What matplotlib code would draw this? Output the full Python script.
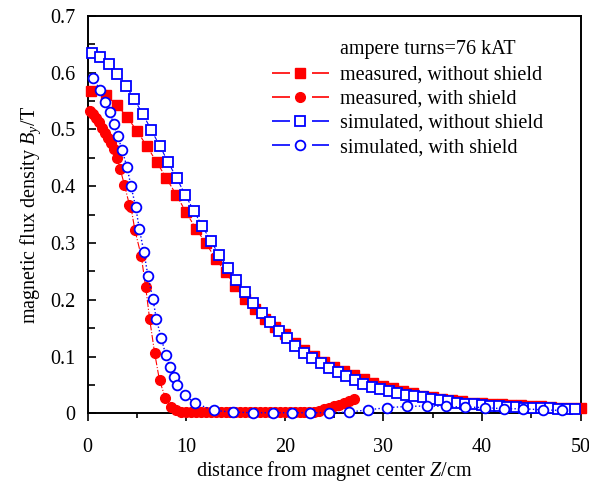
import matplotlib
matplotlib.use('Agg')
import matplotlib.pyplot as plt
from matplotlib.lines import Line2D

plt.rcParams['font.family'] = ['Liberation Serif', 'DejaVu Serif']
plt.rcParams['mathtext.fontset'] = 'custom'
plt.rcParams['mathtext.rm'] = 'Liberation Serif'
plt.rcParams['mathtext.it'] = 'Liberation Serif:italic'
plt.rcParams['font.size'] = 14.5

# measured, without shield
meas_ns_x = [0.4, 1.9, 3, 4, 5, 6, 7, 8, 9, 10, 11, 12, 13, 14, 15, 16, 17, 18, 19, 20,
             21, 22, 23, 24, 25, 26, 27, 28, 29, 30, 31, 32, 33, 34, 35, 36, 37, 38, 39, 40,
             41, 42, 43, 44, 45, 46, 47, 48, 49, 50]
meas_ns_y = [0.568, 0.560, 0.543, 0.522, 0.498, 0.471, 0.443, 0.414, 0.385, 0.354,
             0.325, 0.300, 0.272, 0.249, 0.224, 0.201, 0.183, 0.166, 0.152, 0.139,
             0.124, 0.112, 0.101, 0.091, 0.082, 0.074, 0.067, 0.060, 0.054, 0.048,
             0.044, 0.040, 0.035, 0.031, 0.028, 0.025, 0.023, 0.021, 0.019, 0.018,
             0.017, 0.016, 0.015, 0.014, 0.013, 0.012, 0.011, 0.010, 0.009, 0.009]

# measured, with shield
meas_s_x = [0.3, 0.6, 0.9, 1.2, 1.5, 1.8, 2.1, 2.4, 2.7, 3.0, 3.3, 3.75, 4.25, 4.4, 4.8,
            5.45, 5.9, 6.3, 6.8, 7.3, 7.9, 8.5, 9.0, 9.5, 10.0, 10.5, 11.0, 11.5, 12.0,
            12.5, 13.0, 13.5, 14.0, 14.5, 15.0, 15.5, 16.0, 16.5, 17.0, 17.5, 18.0, 18.5,
            19.0, 19.5, 20.0, 20.5, 21.0, 21.5, 22.0, 22.5, 23.0, 23.5, 24.0, 24.5, 25.0,
            25.5, 26.0, 26.5, 27.0]
meas_s_y = [0.533, 0.527, 0.521, 0.513, 0.503, 0.494, 0.485, 0.476, 0.465, 0.450, 0.431,
            0.402, 0.367, 0.364, 0.323, 0.277, 0.222, 0.166, 0.107, 0.058, 0.027, 0.011,
            0.005, 0.003, 0.002, 0.002, 0.002, 0.002, 0.002, 0.002, 0.002, 0.002, 0.002,
            0.002, 0.002, 0.002, 0.002, 0.002, 0.002, 0.002, 0.002, 0.002, 0.002, 0.002,
            0.002, 0.002, 0.002, 0.002, 0.002, 0.002, 0.003, 0.004, 0.007, 0.009, 0.012,
            0.015, 0.018, 0.022, 0.026]

# simulated, without shield
sim_ns_x = [0.45, 1.31, 2.17, 3.03, 3.89, 4.75, 5.61, 6.47, 7.33, 8.19, 9.05, 9.91, 10.77,
            11.63, 12.49, 13.35, 14.21, 15.07, 15.93, 16.79, 17.65, 18.51, 19.37, 20.23,
            21.09, 21.95, 22.81, 23.67, 24.53, 25.39, 26.25, 27.11, 27.97, 28.83, 29.69,
            30.55, 31.41, 32.27, 33.13, 33.99, 34.85, 35.71, 36.57, 37.43, 38.29, 39.15,
            40.01, 40.87, 41.73, 42.59, 43.45, 44.31, 45.17, 46.03, 46.89, 47.75, 48.61,
            49.47]
sim_ns_y = [0.634, 0.628, 0.615, 0.597, 0.577, 0.553, 0.527, 0.499, 0.471, 0.442, 0.414,
            0.385, 0.357, 0.330, 0.304, 0.279, 0.256, 0.234, 0.214, 0.195, 0.177, 0.160,
            0.145, 0.132, 0.119, 0.107, 0.097, 0.089, 0.080, 0.072, 0.065, 0.058, 0.052,
            0.047, 0.043, 0.039, 0.036, 0.033, 0.030, 0.028, 0.026, 0.023, 0.021, 0.019,
            0.017, 0.016, 0.014, 0.013, 0.012, 0.011, 0.011, 0.010, 0.010, 0.009, 0.009,
            0.008, 0.008, 0.008]

# simulated, with shield
sim_s_x = [0.6, 1.25, 1.8, 2.25, 2.65, 3.08, 3.52, 4.0, 4.4, 4.88, 5.25, 5.72, 6.13, 6.64,
           6.98, 7.49, 7.93, 8.4, 8.74, 9.08, 9.86, 10.9, 12.8, 14.8, 16.8, 18.8, 20.7,
           22.6, 24.5, 26.5, 28.4, 30.4, 32.4, 34.4, 36.4, 38.3, 40.3, 42.2, 44.2, 46.2,
           48.1]
sim_s_y = [0.590, 0.570, 0.549, 0.530, 0.510, 0.488, 0.463, 0.434, 0.401, 0.364, 0.325,
           0.284, 0.242, 0.201, 0.166, 0.132, 0.103, 0.081, 0.064, 0.049, 0.032, 0.018,
           0.005, 0.002, 0.001, 0.001, 0.001, 0.001, 0.001, 0.002, 0.006, 0.010, 0.012,
           0.013, 0.012, 0.011, 0.010, 0.008, 0.008, 0.006, 0.005]

labels = ['measured, without shield', 'measured, with shield',
          'simulated, without shield', 'simulated, with shield']

fig = plt.figure(figsize=(5.89, 4.84), dpi=100)
ax = fig.add_axes([0.1486, 0.1461, 0.8370, 0.8209])

ms = 7
ax.plot(meas_ns_x, meas_ns_y, color='red', ls='--', lw=0.8, marker='s', ms=ms,
        mec='red', mfc='red', clip_on=False, zorder=3)
ax.plot(meas_s_x, meas_s_y, color='red', ls='-.', lw=0.8, marker='o', ms=ms,
        mec='red', mfc='red', clip_on=False, zorder=3)
ax.plot(sim_ns_x, sim_ns_y, color='blue', ls='--', lw=0.8, marker='s', ms=ms,
        mec='blue', mfc='white', mew=1.3, clip_on=False, zorder=4)
ax.plot(sim_s_x, sim_s_y, color='blue', ls=':', lw=1.0, marker='o', ms=ms,
        mec='blue', mfc='white', mew=1.3, clip_on=False, zorder=5)

ax.set_xlim(0, 50)
ax.set_ylim(0, 0.7)
ax.set_xticks([0, 10, 20, 30, 40, 50])
ax.set_xticks([5, 15, 25, 35, 45], minor=True)
ax.set_yticks([0, 0.1, 0.2, 0.3, 0.4, 0.5, 0.6, 0.7])
ax.set_yticklabels(['0', '0.1', '0.2', '0.3', '0.4', '0.5', '0.6', '0.7'])
ax.set_yticks([0.05, 0.15, 0.25, 0.35, 0.45, 0.55, 0.65], minor=True)
ax.tick_params(axis='x', which='major', direction='out', length=6, width=1.2, pad=12)
ax.tick_params(axis='x', which='minor', direction='out', length=3.5, width=1.2)
ax.tick_params(axis='y', which='major', direction='in', length=6, width=1.2, pad=9)
ax.tick_params(axis='y', which='minor', direction='in', length=5, width=1.2)
for s in ax.spines.values():
    s.set_linewidth(1.4)

ax.set_xlabel('distance from magnet center $Z$/cm', labelpad=1)
ax.set_ylabel('magnetic flux density $B_y$/T', labelpad=5)

dash = (0, (10.8, 13.2))
handles = [
    Line2D([], [], color='red', lw=1.2, ls=dash, marker='s', ms=ms, mfc='red', mec='red'),
    Line2D([], [], color='red', lw=1.2, ls=dash, marker='o', ms=ms, mfc='red', mec='red'),
    Line2D([], [], color='blue', lw=1.2, ls=dash, marker='s', ms=ms, mfc='white',
           mec='blue', mew=1.3),
    Line2D([], [], color='blue', lw=1.2, ls=dash, marker='o', ms=ms, mfc='white',
           mec='blue', mew=1.3),
]
ax.legend(handles, labels, loc='upper left', bbox_to_anchor=(0.3736, 0.875),
          frameon=False, borderpad=0, borderaxespad=0, handlelength=2.84,
          handletextpad=0.56, labelspacing=0.25, fontsize=14.5)
ax.text(0.512, 0.915, 'ampere turns=76 kAT', transform=ax.transAxes,
        ha='left', va='center', fontsize=14.5)

fig.savefig('out.png', dpi=100)
